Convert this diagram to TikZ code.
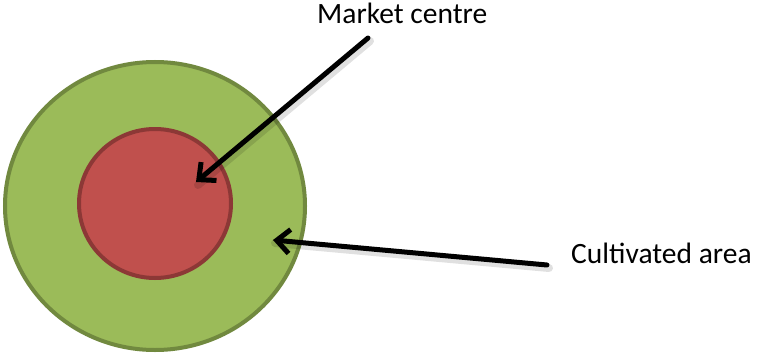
\documentclass[tikz,border=0pt]{standalone}
\usepackage{fontspec}
\setmainfont{Carlito}
\usetikzlibrary{arrows.meta}
\definecolor{fieldgreen}{HTML}{9BBB59}
\definecolor{fieldgreenline}{HTML}{71893F}
\definecolor{marketred}{HTML}{C0504D}
\definecolor{marketredline}{HTML}{8C3836}
\tikzset{
  ptr/.style={line width=5pt, -{Straight Barb[length=13pt,width=24pt,line width=5pt]}, line cap=round, black},
  ptrshadow/.style={line width=8pt, line cap=round, black, opacity=0.12},
  lbl/.style={font=\fontsize{29.5}{32}\selectfont, anchor=base west, inner sep=0pt}
}
\begin{document}
\begin{tikzpicture}[x=1pt,y=-1pt]
\useasboundingbox (0,0) rectangle (757,353);
\fill[white] (0,0) rectangle (757,353);
\draw[fill=fieldgreen, draw=fieldgreenline, line width=4pt] (155,206) ellipse [x radius=150, y radius=144];
\draw[fill=marketred, draw=marketredline, line width=4pt] (155,203.5) ellipse [x radius=76, y radius=74.5];
\node[lbl] (market) at (317,24) {Market centre};
\node[lbl] (cult) at (571,263) {Cultivated area};
\coordinate (mstart) at (368,38);
\coordinate (mtip) at (196,182);
\coordinate (cstart) at (547,265);
\coordinate (ctip) at (273,240);
\draw[ptrshadow] ([shift={(2,3)}]mstart) -- ([shift={(2,3)}]mtip);
\draw[ptrshadow] ([shift={(2,3)}]cstart) -- ([shift={(2,3)}]ctip);
\draw[ptr] (mstart) -- (mtip);
\draw[ptr] (cstart) -- (ctip);
\end{tikzpicture}
\end{document}
